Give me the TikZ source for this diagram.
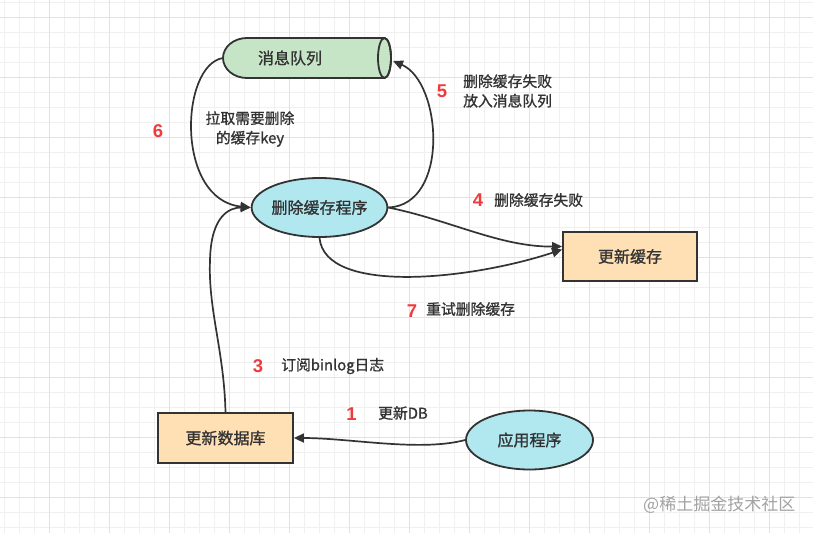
\documentclass[tikz,border=0pt]{standalone}
\usepackage{fontspec}
\setmainfont{Noto Sans CJK SC}[RawFeature={embolden=1.1}]
\newfontfamily\wmfont{Noto Sans CJK SC}
\newfontfamily\numfont{Liberation Sans}
\usetikzlibrary{shapes.geometric,arrows.meta,calc}
\definecolor{strokec}{HTML}{333333}
\definecolor{textc}{HTML}{333333}
\definecolor{greenfill}{HTML}{C6E5C7}
\definecolor{cyanfill}{HTML}{B1E8F0}
\definecolor{orangefill}{HTML}{FFE0B4}
\definecolor{numred}{HTML}{EE3B3B}
\definecolor{gridminor}{HTML}{F0F0F0}
\definecolor{gridmajor}{HTML}{E2E2E2}
\definecolor{wmc}{HTML}{A3A3A3}
\begin{document}
\begin{tikzpicture}[x=1pt,y=-1pt,
  shapeline/.style={draw=strokec, line width=1.8pt},
  conn/.style={draw=strokec, line width=1.7pt, -{Triangle[length=10pt,width=9pt]}},
  ellnode/.style={ellipse, shapeline, fill=cyanfill, minimum width=127pt, minimum height=59pt, inner sep=0pt, text=textc, font=\fontsize{16}{19}\selectfont},
  boxnode/.style={rectangle, shapeline, fill=orangefill, minimum width=134pt, minimum height=49pt, inner sep=0pt, text=textc, font=\fontsize{16}{19}\selectfont},
  lbl/.style={inner sep=0pt, text=textc, font=\fontsize{14.8}{19.5}\selectfont},
  num/.style={inner sep=0pt, text=numred, font=\numfont\bfseries\fontsize{18.5}{18.5}\selectfont}
]
\useasboundingbox (0,0) rectangle (813,533);
\fill[white] (0,0) rectangle (813,533);
% grid
\foreach \gx in {4,19,...,813} \draw[gridminor, line width=0.8pt] (\gx,0) -- (\gx,533);
\foreach \gy in {2,17,...,533} \draw[gridminor, line width=0.8pt] (0,\gy) -- (813,\gy);
\foreach \gx in {49,109,...,813} \draw[gridmajor, line width=0.8pt] (\gx,0) -- (\gx,533);
\foreach \gy in {17,77,...,533} \draw[gridmajor, line width=0.8pt] (0,\gy) -- (813,\gy);

% message queue cylinder
\filldraw[shapeline, fill=greenfill] (247,38) -- (384.5,38)
  .. controls (388.1,38) and (391,47) .. (391,58)
  .. controls (391,69) and (388.1,78) .. (384.5,78) -- (247,78)
  .. controls (233.7,78) and (223,69) .. (223,58)
  .. controls (223,47) and (233.7,38) .. (247,38) -- cycle;
\draw[shapeline] (384.5,58) ellipse [x radius=6.5, y radius=20];
\node[inner sep=0pt, text=textc, font=\fontsize{16}{19}\selectfont] (mq) at (290,58) {消息队列};
\coordinate (mqL) at (223,58);
\coordinate (mqR) at (393,61);

% nodes
\node[ellnode] (del) at (319.5,207.5) {删除缓存程序};
\node[boxnode] (cache) at (630,256.5) {更新缓存};
\node[boxnode, minimum width=135pt, minimum height=50pt] (db) at (225.5,438) {更新数据库};
\node[ellnode] (app) at (529.5,440) {应用程序};

% connectors
\draw[conn] (app.west) .. controls (420,452) and (350,438) .. (db.east);
\draw[conn] (db.north) .. controls (224,350) and (208,310) .. (210,260)
  .. controls (211,215) and (230,207.5) .. (del.west);
\draw[conn] (mqL) .. controls (180,65) and (175,200) .. (del.west);
\draw[conn] (del.east) .. controls (450,205) and (442,82) .. (mqR);
\draw[conn] (del.east) .. controls (450,220) and (500,247) .. ($(cache.west)+(0,-10)$);
\draw[conn] (del.south) .. controls (325,295) and (470,280) .. ($(cache.west)+(0,-7)$);

% labels
\node[num] (n6) at (158,131) {6};
\node[lbl, align=center] (l6) at (250,129) {拉取需要删除\\的缓存key};
\node[num] (n5) at (442,91) {5};
\node[lbl, align=left, anchor=west] (l5) at (463,91) {删除缓存失败\\放入消息队列};
\node[num] (n4) at (478,200) {4};
\node[lbl, anchor=west] (l4) at (494,200) {删除缓存失败};
\node[num] (n7) at (412,311) {7};
\node[lbl, anchor=west] (l7) at (426,309) {重试删除缓存};
\node[num] (n3) at (258,366) {3};
\node[lbl, anchor=west] (l3) at (281,366) {订阅binlog日志};
\node[num] (n1) at (351.5,414) {1};
\node[lbl, anchor=west] (l1) at (378,413) {更新DB};
\node[inner sep=0pt, text=wmc, anchor=west, font=\wmfont\fontsize{17}{17}\selectfont] (wm) at (643,505) {@稀土掘金技术社区};
\end{tikzpicture}
\end{document}
